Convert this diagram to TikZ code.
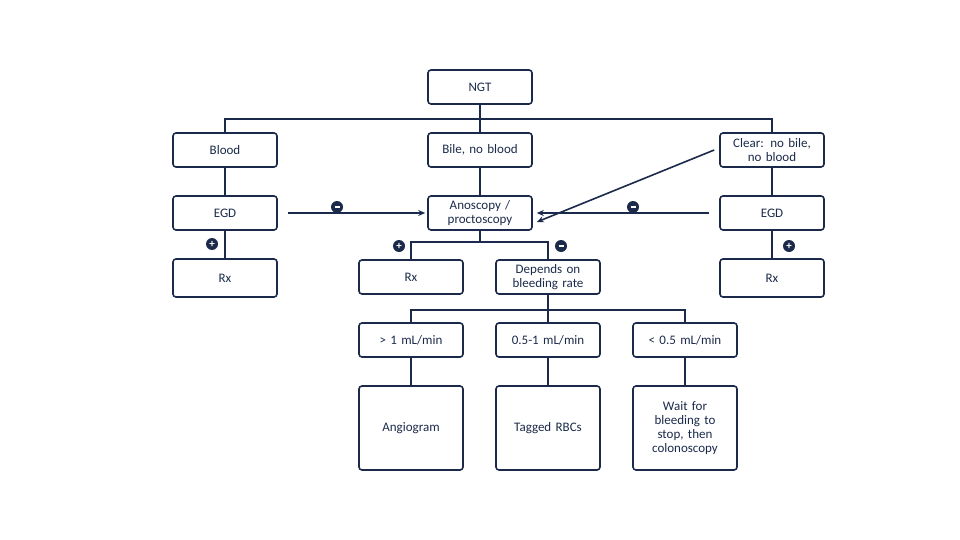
\documentclass[tikz,border=0pt]{standalone}
\usepackage{fontspec}
\setmainfont{Carlito}
\usetikzlibrary{arrows.meta}
\usetikzlibrary{positioning}
\definecolor{navy}{HTML}{1B2A4A}
\newcommand{\minussign}{\rule[0.5pt]{5pt}{1.6pt}}
\begin{document}
\begin{tikzpicture}[x=1pt,y=-1pt,line width=1.6pt,draw=navy,font=\fontsize{13}{14}\selectfont,
                      >={Stealth[length=7pt,width=6pt]},
                      box/.style={draw=navy,rounded corners=3pt,text width=96pt,align=center,text=navy,
                                  minimum width=104pt,minimum height=34pt,inner sep=2pt},
                      tall/.style={box,minimum height=84pt},
                      sign/.style={circle,fill=navy,inner sep=0,minimum size=12pt,text=white,font=\bfseries\fontsize{11}{11}\selectfont},
                      link/.style={draw=navy}]
    \useasboundingbox (0,0) rectangle (960,540);
    \node[box] (ngt) at (480,87) {NGT};
    \node[box] (blood) at (225,150) {Blood};
    \node[box] (bile) at (480,150) {Bile, no blood};
    \node[box] (clear) at (772,150) {Clear: no bile,\\no blood};
    \node[box] (egdl) at (225,213) {EGD};
    \node[box] (anos) at (480,213) {Anoscopy /\\proctoscopy};
    \node[box] (egdr) at (772,213) {EGD};
    \node[box,minimum height=38pt] (rxl) at (225,278) {Rx};
    \node[box] (rxm) at (411,277) {Rx};
    \node[box] (dep) at (548,277) {Depends on\\bleeding rate};
    \node[box,minimum height=38pt] (rxr) at (772,278) {Rx};
    \node[box] (fast) at (411,340) {> 1 mL/min};
    \node[box] (mid) at (548,340) {0.5-1 mL/min};
    \node[box] (slow) at (685,340) {< 0.5 mL/min};
    \node[tall] (angio) at (411,428) {Angiogram};
    \node[tall] (rbc) at (548,428) {Tagged RBCs};
    \node[tall] (wait) at (685,428) {Wait for\\bleeding to\\stop, then\\colonoscopy};

    \coordinate (split) at (480,119);
    \draw[link] (ngt) -- (split);
    \draw[link] (blood.north) |- (split) -| (clear.north);
    \draw[link] (split) -- (bile);
    \draw[link] (blood) -- (egdl);
    \draw[link] (egdl) -- (rxl);
    \draw[link] (bile) -- (anos);
    \draw[link] (clear) -- (egdr);
    \draw[link] (egdr) -- (rxr);

    \draw[link,->] ([xshift=10pt]egdl.east) -- ([xshift=-2pt]anos.west);
    \draw[link,->] ([xshift=-10pt]egdr.west) -- ([xshift=4pt]anos.east);
    \draw[link,->] ([xshift=-5pt]clear.west) -- ([xshift=4pt,yshift=-9pt]anos.east);

    \coordinate (anosplit) at (480,242);
    \draw[link] (anos) -- (anosplit);
    \draw[link] (rxm.north) |- (anosplit) -| (dep.north);

    \coordinate (depsplit) at (548,310);
    \draw[link] (dep) -- (depsplit);
    \draw[link] (fast.north) |- (depsplit) -| (slow.north);
    \draw[link] (depsplit) -- (mid);
    \draw[link] (fast) -- (angio);
    \draw[link] (mid) -- (rbc);
    \draw[link] (slow) -- (wait);

    \node[sign] (pl) at (212,244) {+};
    \node[sign] (pm) at (399,246) {+};
    \node[sign] (pr) at (789,246) {+};
    \node[sign] (ml) at (337,207) {\minussign};
    \node[sign] (mr) at (633,207) {\minussign};
    \node[sign] (md) at (561,246) {\minussign};
\end{tikzpicture}
\end{document}
